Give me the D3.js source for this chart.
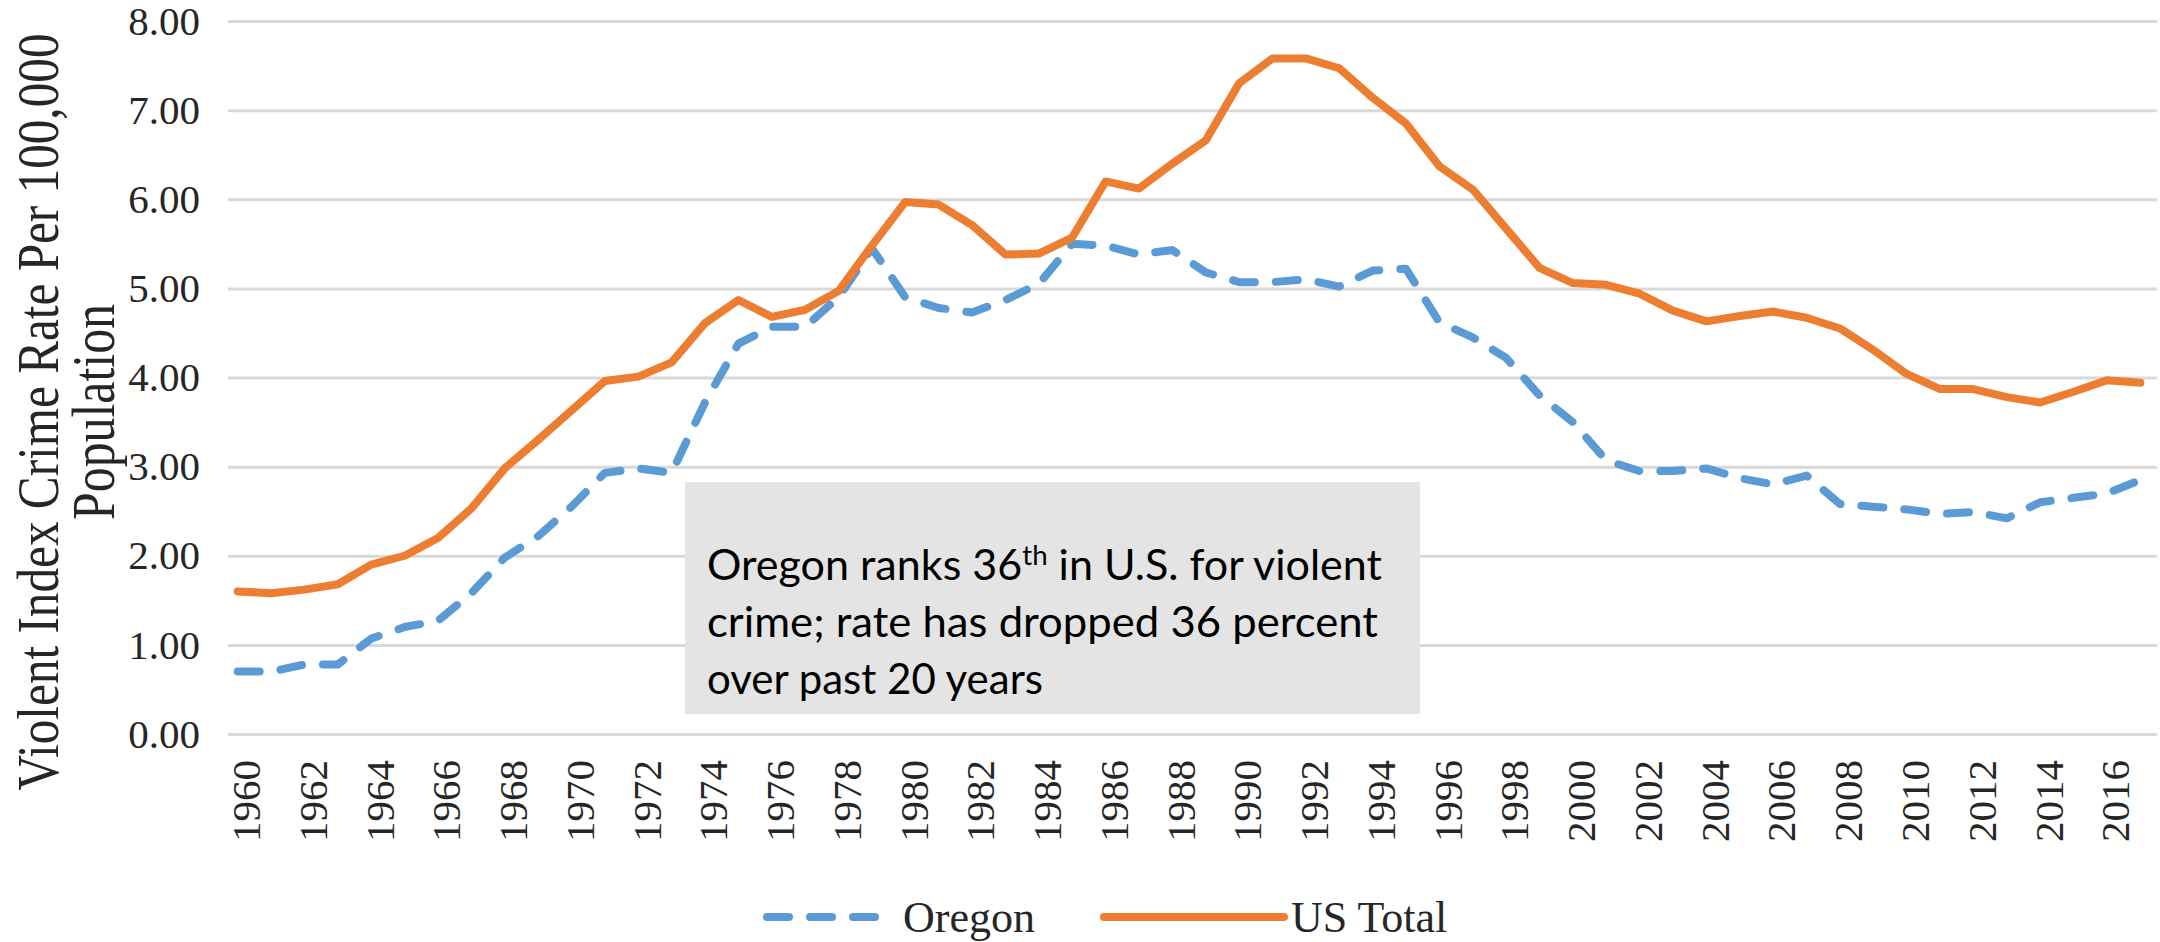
<!DOCTYPE html>
<html>
<head>
<meta charset="utf-8">
<script src="https://cdn.jsdelivr.net/npm/d3@7"></script>
<style>
  html, body { margin: 0; padding: 0; background: #fff; }
  svg { display: block; }
</style>
</head>
<body>
<div class="canvas"></div>
<script>
// years 1960..2017
const years = [1960, 1961, 1962, 1963, 1964, 1965, 1966, 1967, 1968, 1969,
  1970, 1971, 1972, 1973, 1974, 1975, 1976, 1977, 1978, 1979,
  1980, 1981, 1982, 1983, 1984, 1985, 1986, 1987, 1988, 1989,
  1990, 1991, 1992, 1993, 1994, 1995, 1996, 1997, 1998, 1999,
  2000, 2001, 2002, 2003, 2004, 2005, 2006, 2007, 2008, 2009,
  2010, 2011, 2012, 2013, 2014, 2015, 2016, 2017];

const oregon = [0.70, 0.70, 0.78, 0.78, 1.07, 1.20, 1.27, 1.58, 1.98, 2.22,
  2.55, 2.93, 2.98, 2.93, 3.72, 4.38, 4.57, 4.57, 4.90, 5.45,
  4.90, 4.78, 4.73, 4.87, 5.05, 5.50, 5.48, 5.38, 5.43, 5.18,
  5.07, 5.07, 5.10, 5.02, 5.20, 5.22, 4.62, 4.45, 4.22, 3.80,
  3.50, 3.07, 2.95, 2.95, 2.98, 2.87, 2.80, 2.90, 2.58, 2.55,
  2.52, 2.47, 2.49, 2.42, 2.60, 2.65, 2.70, 2.85];

const usTotal = [1.60, 1.58, 1.62, 1.68, 1.90, 2.00, 2.20, 2.53, 2.98, 3.30,
  3.63, 3.96, 4.01, 4.17, 4.61, 4.87, 4.68, 4.76, 4.97, 5.48,
  5.97, 5.94, 5.71, 5.38, 5.39, 5.57, 6.20, 6.12, 6.40, 6.66,
  7.30, 7.58, 7.58, 7.47, 7.14, 6.85, 6.37, 6.11, 5.67, 5.23,
  5.06, 5.04, 4.94, 4.75, 4.63, 4.69, 4.74, 4.67, 4.55, 4.31,
  4.04, 3.87, 3.87, 3.78, 3.72, 3.84, 3.97, 3.94];

const yTicks = [0, 1, 2, 3, 4, 5, 6, 7, 8];
const xTickYears = years.filter(y => y % 2 === 0);

const titleLines = ['Violent Index Crime Rate Per 100,000', 'Population'];
const noteLines = [
  ['Oregon ranks 36', 'th', ' in U.S. for violent'],
  ['crime; rate has dropped 36 percent'],
  ['over past 20 years']
];

const W = 2160, H = 942;
const serif = '"Liberation Serif", "Times New Roman", serif';

const svg = d3.select('.canvas')
  .append('svg')
  .attr('width', W)
  .attr('height', H);

const x = d3.scaleBand()
  .domain(years)
  .range([221, 2157])
  .padding(0);

const xc = d => x(d) + x.bandwidth() / 2;

const y = d3.scaleLinear()
  .domain([0, 8])
  .range([734, 21]);

// gridlines
const grid = d3.axisLeft(y)
  .tickValues(yTicks)
  .tickSize(-(2157 - 228))
  .tickFormat('');

svg.append('g')
  .attr('transform', 'translate(228,0)')
  .call(grid)
  .call(g => g.select('.domain').remove())
  .call(g => g.selectAll('line').attr('stroke', '#d9d9d9').attr('stroke-width', 3));

// y tick labels
svg.append('g')
  .attr('transform', 'translate(200,0)')
  .call(d3.axisLeft(y).tickValues(yTicks).tickSize(0).tickPadding(0).tickFormat(d3.format('.2f')))
  .call(g => g.select('.domain').remove())
  .call(g => g.selectAll('text')
    .attr('font-family', serif)
    .attr('font-size', 41)
    .attr('fill', '#262626'));

// x tick labels (rotated)
svg.append('g')
  .selectAll('text')
  .data(xTickYears)
  .enter()
  .append('text')
  .attr('transform', d => `translate(${xc(d) + 8}, 760) rotate(-90)`)
  .attr('text-anchor', 'end')
  .attr('dy', '0.35em')
  .attr('font-family', serif)
  .attr('font-size', 41)
  .attr('fill', '#262626')
  .text(d => d);

// y axis title
svg.append('text')
  .attr('transform', 'translate(58, 412) rotate(-90)')
  .attr('text-anchor', 'middle')
  .attr('font-family', serif)
  .attr('font-size', 60)
  .attr('textLength', 757)
  .attr('lengthAdjust', 'spacingAndGlyphs')
  .attr('fill', '#262626')
  .text(titleLines[0]);

svg.append('text')
  .attr('transform', 'translate(114, 412) rotate(-90)')
  .attr('text-anchor', 'middle')
  .attr('font-family', serif)
  .attr('font-size', 62)
  .attr('textLength', 216)
  .attr('lengthAdjust', 'spacingAndGlyphs')
  .attr('fill', '#262626')
  .text(titleLines[1]);

// lines
const line = d3.line()
  .x((d, i) => xc(years[i]))
  .y(d => y(d));

svg.append('path')
  .datum(oregon)
  .attr('d', line)
  .attr('fill', 'none')
  .attr('stroke', '#5b9bd5')
  .attr('stroke-width', 8)
  .attr('stroke-linecap', 'round')
  .attr('stroke-linejoin', 'round')
  .attr('stroke-dasharray', '22,21');

svg.append('path')
  .datum(usTotal)
  .attr('d', line)
  .attr('fill', 'none')
  .attr('stroke', '#ed7d31')
  .attr('stroke-width', 8)
  .attr('stroke-linecap', 'round')
  .attr('stroke-linejoin', 'round');

// annotation box
const note = svg.append('g');
note.append('rect')
  .attr('x', 685)
  .attr('y', 482)
  .attr('width', 735)
  .attr('height', 232)
  .attr('fill', '#e4e4e4');

const noteWidths = [675, 671, 336];
noteLines.forEach((parts, i) => {
  const t = note.append('text')
    .attr('x', 707)
    .attr('y', 580 + i * 57)
    .attr('font-family', 'Lato, "Open Sans", sans-serif')
    .attr('font-size', 42)
    .attr('fill', '#000')
    .attr('textLength', noteWidths[i])
    .attr('lengthAdjust', 'spacingAndGlyphs');
  parts.forEach((p, j) => {
    const s = t.append('tspan').text(p);
    if (parts.length === 3 && j === 1) s.attr('font-size', 27).attr('dy', -15);
    if (parts.length === 3 && j === 2) s.attr('dy', 15);
  });
});

// legend
const legend = svg.append('g');
legend.append('line')
  .attr('x1', 767).attr('x2', 880)
  .attr('y1', 917).attr('y2', 917)
  .attr('stroke', '#5b9bd5')
  .attr('stroke-width', 8)
  .attr('stroke-linecap', 'round')
  .attr('stroke-dasharray', '22,21');
legend.append('text')
  .attr('x', 903).attr('y', 932)
  .attr('font-family', serif)
  .attr('font-size', 44)
  .attr('fill', '#262626')
  .text('Oregon');
legend.append('line')
  .attr('x1', 1104).attr('x2', 1284)
  .attr('y1', 917).attr('y2', 917)
  .attr('stroke', '#ed7d31')
  .attr('stroke-width', 8)
  .attr('stroke-linecap', 'round');
legend.append('text')
  .attr('x', 1291).attr('y', 932)
  .attr('font-family', serif)
  .attr('font-size', 44)
  .attr('fill', '#262626')
  .text('US Total');
</script>
</body>
</html>
